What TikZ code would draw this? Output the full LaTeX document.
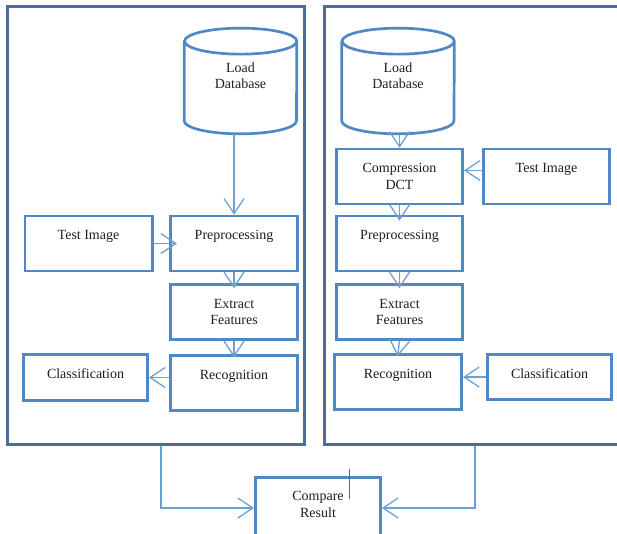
\documentclass[tikz,border=0pt]{standalone}
\usepackage{fontspec}
\setmainfont{Liberation Serif}
\usetikzlibrary{arrows.meta,positioning}

\definecolor{frameblue}{HTML}{4A7099}
\definecolor{boxblue}{HTML}{4F87C7}
\definecolor{lineblue}{HTML}{6C9FD6}
\definecolor{inkgray}{HTML}{1E1E1E}

\begin{document}
\begin{tikzpicture}[x=1pt,y=-1pt,
   frame/.style={draw=frameblue,line width=2.8pt,inner sep=0pt},
   box/.style={draw=boxblue,line width=2.7pt,inner sep=0pt,
      minimum width=127.3pt,minimum height=54.8pt},
   db/.style={inner sep=0pt,minimum width=112.3pt,minimum height=105.3pt},
   txt/.style={anchor=north,yshift=#1,inner sep=0pt,align=center,
      text=inkgray,font=\fontsize{14}{16.5}\selectfont},
   txt/.default=-15.5pt,
   flow/.style={color=lineblue,line width=1.3pt,
      -{Straight Barb[length=15pt,width=20pt]}}]
   \useasboundingbox (0,0) rectangle (617,533);
   \clip (0,0) rectangle (617,533);

   % the two outer frames
   \node[frame,minimum width=297.2pt,minimum height=438.2pt] (fr_l) at (156,225.5) {};
   \node[frame,minimum width=295.2pt,minimum height=438.2pt] (fr_r) at (472,225.5) {};

   % left: plain recognition
   \node[db,label={[txt=-34pt]north:{Load\\Database}}] (db_l) at (240.5,81) {};
   \node[box,label={[txt]north:Test Image}] (ti_l) at (88.5,243.5) {};
   \node[box,label={[txt]north:Preprocessing}] (pre_l) at (234,243.5) {};
   \node[box,label={[txt]north:{Extract\\Features}}] (ext_l) at (234,312) {};
   \node[box,label={[txt]north:Recognition}] (rec_l) at (234,383) {};
   \node[box,minimum width=124.3pt,minimum height=46.3pt,
         label={[txt]north:Classification}] (cls_l) at (85.5,377.5) {};

   % right: with DCT compression
   \node[db,label={[txt=-34pt]north:{Load\\Database}}] (db_r) at (398,81) {};
   \node[box,minimum width=126.3pt,label={[txt]north:{Compression\\DCT}}] (cmp) at (399.5,176.5) {};
   \node[box,minimum width=126.3pt,label={[txt]north:Test Image}] (ti_r) at (546.5,176.5) {};
   \node[box,minimum width=126.3pt,label={[txt]north:Preprocessing}] (pre_r) at (399.5,243.5) {};
   \node[box,minimum width=126.3pt,label={[txt]north:{Extract\\Features}}] (ext_r) at (399.5,312) {};
   \node[box,label={[txt]north:Recognition}] (rec_r) at (398,382) {};
   \node[box,minimum width=124.3pt,minimum height=45.3pt,
         label={[txt]north:Classification}] (cls_r) at (549.5,377) {};

   \node[box,minimum width=125.3pt,minimum height=61.3pt,
         label={[txt]north:{Compare\\Result}}] (res) at (318,508) {};

   % database cylinders
   \foreach \n in {db_l,db_r}
     \draw[boxblue,line width=2.7pt]
       ([yshift=-13pt]\n.north west) -- ([yshift=13pt]\n.south west)
       arc[start angle=180,end angle=360,x radius=56.15pt,y radius=13pt]
       -- ([yshift=-13pt]\n.north east)
       arc[start angle=0,end angle=360,x radius=56.15pt,y radius=13pt];

   \path[flow]
     (pre_l.north |- db_l.south) edge (pre_l.north)
     (ti_l.east) edge[shorten >=-8pt] (pre_l.west)
     (pre_l.south) edge[shorten >=-5pt] (ext_l.north)
     (ext_l.south) edge[shorten >=-3pt] (rec_l.north)
     (rec_l.west |- cls_l.east) edge (cls_l.east)
     (cmp.north |- db_r.south) edge (cmp.north)
     ([yshift=6pt]ti_r.west) edge ([yshift=6pt]cmp.east)
     (cmp.south) edge[shorten >=-6pt] (pre_r.north)
     (pre_r.south) edge[shorten >=-5pt] (ext_r.north)
     (ext_r.south) edge[shorten >=-3pt] (rec_r.north)
     (cls_r.west) edge (cls_r.west -| rec_r.east);

   \draw[flow] ([xshift=5pt]fr_l.south) |- (res.west);
   \draw[flow] ([xshift=3pt]fr_r.south) |- (res.east);

   \draw[inkgray!70,line width=0.8pt] (349,469) -- (349,499);
\end{tikzpicture}
\end{document}
